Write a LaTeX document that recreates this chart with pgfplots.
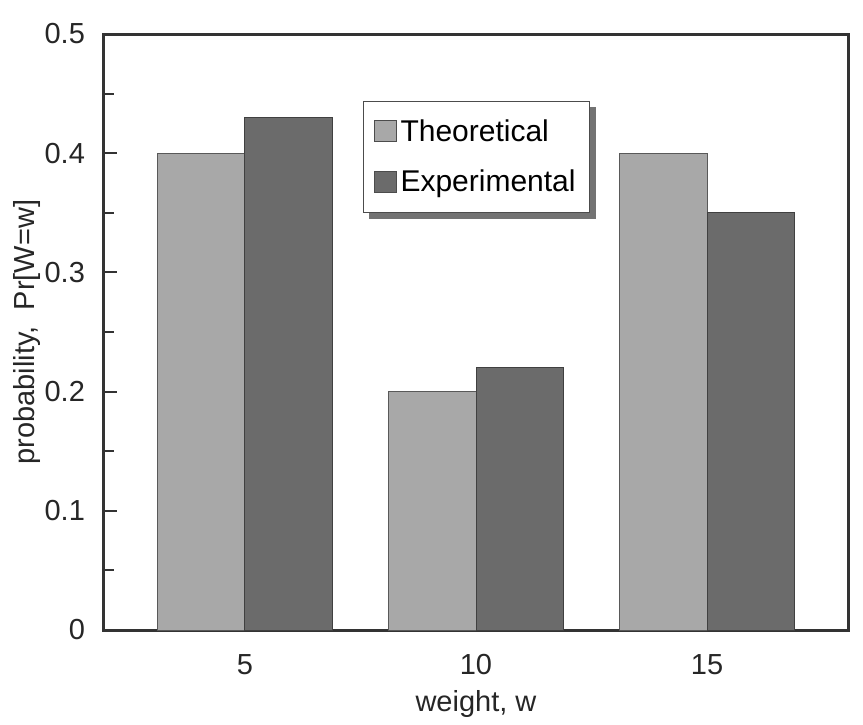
\documentclass[border=0pt]{standalone}
\usepackage{pgfplots}
\pgfplotsset{compat=1.18}
\usepackage{fontspec}
\setmainfont{Liberation Sans}
\definecolor{theo}{gray}{0.66}
\definecolor{expe}{gray}{0.42}
\begin{document}
\begin{tikzpicture}
\begin{axis}[
  width=372pt, height=298pt, scale only axis,
  xmin=-0.61, xmax=2.61,
  ymin=0, ymax=0.5,
  xtick=data, xticklabels={5,10,15},
  x tick style={draw=none},
  ytick={0,0.1,0.2,0.3,0.4,0.5},
  minor ytick={0.05,0.15,0.25,0.35,0.45},
  yticklabel style={/pgf/number format/fixed, anchor=east, xshift=-6pt},
  xticklabel style={anchor=base, yshift=-15.5pt},
  /pgf/number format/assume math mode=true,
  tick align=inside,
  ytick pos=left,
  major tick length=6.5pt, minor tick length=5pt,
  y tick style={line width=1pt, color=black!80},
  axis line style={line width=1.5pt, color=black!80},
  ticklabel style={font=\fontsize{14.5}{16}\selectfont, color=black!85},
  xlabel={weight, w},
  ylabel={probability,\ \ Pr[W=w]},
  every axis x label/.style={at={(axis description cs:0.5,0)}, anchor=base, yshift=-40.5pt, font=\fontsize{14.5}{16}\selectfont, color=black!85},
  every axis y label/.style={at={(axis description cs:0,0.5)}, anchor=center, xshift=-38.5pt, rotate=90, font=\fontsize{14.5}{16}\selectfont, color=black!85},
  ybar=0pt, bar width=0.38,
  legend style={name=leg, at={(0.348,0.888)}, anchor=north west,
    font=\fontsize{15}{17}\selectfont,
    draw=black!70, line width=0.6pt, fill=white,
    inner xsep=5pt, inner ysep=7pt, row sep=9pt},
  legend cell align=left,
  legend image code/.code={\draw[#1, draw=black!70, line width=0.5pt] (0pt,-5pt) rectangle (11pt,5.5pt);},
]
\addplot[fill=theo, draw=black!65, line width=0.5pt] coordinates {(0,0.40) (1,0.20) (2,0.40)};
\addplot[fill=expe, draw=black!75, line width=0.5pt] coordinates {(0,0.43) (1,0.22) (2,0.35)};
\legend{Theoretical, Experimental}
\end{axis}
\fill[black!55] ([xshift=3pt]leg.south west) rectangle ([xshift=3pt,yshift=-3pt]leg.south east);
\fill[black!55] ([yshift=-3pt]leg.north east) rectangle ([xshift=3pt,yshift=-3pt]leg.south east);
\pgfresetboundingbox
\path ([shift={(-52pt,-47pt)}]current axis.south west) rectangle ([shift={(379.5pt,315pt)}]current axis.south west);
\end{tikzpicture}
\end{document}
